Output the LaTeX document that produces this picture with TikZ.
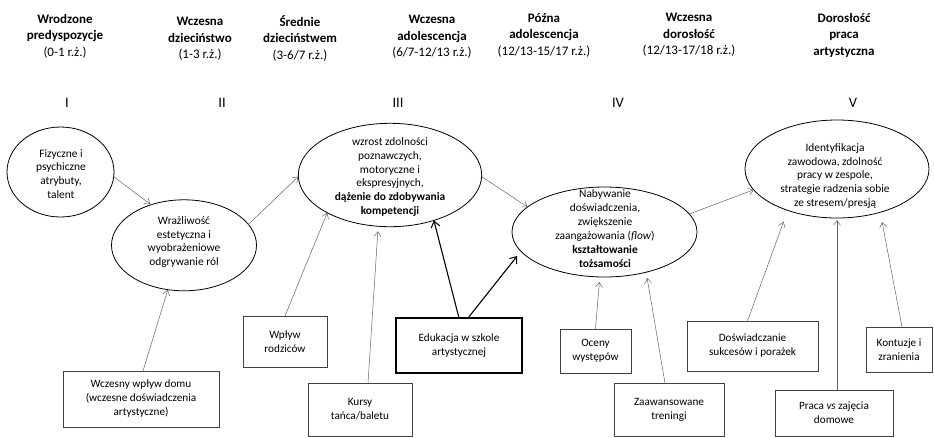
\documentclass[tikz,border=0pt]{standalone}
\usepackage{fontspec}
\setmainfont{Carlito}
\usetikzlibrary{arrows.meta,shapes.geometric}
\begin{document}
\begin{tikzpicture}[x=1pt,y=-1pt,
  hdr/.style={align=center,inner sep=0pt,font=\fontsize{13}{16.5}\selectfont},
  roman/.style={inner sep=0pt,font=\fontsize{14.5}{16}\selectfont},
  oval/.style={draw=black,line width=0.8pt,ellipse,inner sep=0pt,outer sep=0pt},
  otext/.style={align=center,inner sep=0pt,font=\fontsize{11.4}{13.9}\selectfont},
  box/.style={draw=black!75,line width=0.8pt,align=center,inner sep=0pt,outer sep=0pt,font=\fontsize{11.2}{14}\selectfont},
  tbox/.style={box,draw=black,line width=1.3pt},
  arr/.style={draw=black!60,line width=0.5pt,-{Straight Barb[length=5pt,width=7pt]}},
  tarr/.style={draw=black,line width=1.1pt,-{Straight Barb[length=6pt,width=9pt,line width=1pt]}}
]
\fill[white] (0,0) rectangle (934,437);
\useasboundingbox (0,0) rectangle (934,437);

% headers
\node[hdr] (h1) at (65,36) {\textbf{Wrodzone}\\\textbf{predyspozycje}\\(0-1 r.ż.)};
\node[hdr] (h2) at (200,39) {\textbf{Wczesna}\\\textbf{dzieciństwo}\\(1-3 r.ż.)};
\node[hdr] (h3) at (300,38) {\textbf{Średnie}\\\textbf{dzieciństwem}\\(3-6/7 r.ż.)};
\node[hdr] (h4) at (432,37) {\textbf{Wczesna}\\\textbf{adolescencja}\\(6/7-12/13 r.ż.)};
\node[hdr] (h5) at (544,35) {\textbf{Późna}\\\textbf{adolescencja}\\(12/13-15/17 r.ż.)};
\node[hdr] (h6) at (689,35) {\textbf{Wczesna}\\\textbf{dorosłość}\\(12/13-17/18 r.ż.)};
\node[hdr] (h7) at (844,35) {\textbf{Dorosłość}\\\textbf{praca}\\\textbf{artystyczna}};

% roman numerals
\node[roman] (r1) at (67,103) {I};
\node[roman] (r2) at (222,103) {II};
\node[roman] (r3) at (398,103) {III};
\node[roman] (r4) at (618,103) {IV};
\node[roman] (r5) at (853,103) {V};

% ellipses
\node[oval,minimum width=107pt,minimum height=90pt] (e1) at (60.5,172) {};
\node[oval,minimum width=145pt,minimum height=91pt] (e2) at (184,245.3) {};
\node[oval,minimum width=183.4pt,minimum height=103.4pt] (e3) at (390,175) {};
\node[oval,minimum width=185pt,minimum height=90pt] (e4) at (604.5,232) {};
\node[oval,minimum width=184pt,minimum height=98pt] (e5) at (837,169) {};

\node[otext] (t1) at (61,174) {Fizyczne i\\psychiczne\\atrybuty,\\talent};
\node[otext] (t2) at (184,242) {Wrażliwość\\estetyczna i\\wyobrażeniowe\\odgrywanie ról};
\node[otext] (t3) at (390,177) {wzrost zdolności\\poznawczych,\\motoryczne i\\ekspresyjnych,\\\textbf{dążenie do zdobywania}\\\textbf{kompetencji}};
\node[otext] (t4) at (605,228.5) {Nabywanie\\doświadczenia,\\zwiększenie\\zaangażowania (\textit{flow})\\\textbf{kształtowanie}\\\textbf{tożsamości}};
\node[otext] (t5) at (835,176) {Identyfikacja\\zawodowa, zdolność\\pracy w zespole,\\strategie radzenia sobie\\ze stresem/presją};

% boxes
\node[box,minimum width=156pt,minimum height=56pt] (b1) at (141,399) {Wczesny wpływ domu\\(wczesne doświadczenia\\artystyczne)};
\node[box,minimum width=84pt,minimum height=51pt] (b2) at (285,341.5) {Wpływ\\rodziców};
\node[box,minimum width=104pt,minimum height=53pt] (b3) at (360,409.5) {Kursy\\tańca/baletu};
\node[tbox,minimum width=126pt,minimum height=55pt] (b4) at (459,345.5) {Edukacja w szkole\\artystycznej};
\node[box,minimum width=71pt,minimum height=44pt] (b5) at (595.5,351) {Oceny\\występów};
\node[box,minimum width=110pt,minimum height=53pt] (b6) at (669,409.5) {Zaawansowane\\treningi};
\node[box,minimum width=131pt,minimum height=50pt] (b7) at (752.5,346) {Doświadczanie\\sukcesów i porażek};
\node[box,minimum width=118pt,minimum height=46pt] (b8) at (834,413) {Praca \textit{vs} zajęcia\\domowe};
\node[box,minimum width=66pt,minimum height=45pt] (b9) at (899,349.5) {Kontuzje i\\zranienia};

% connectors between ellipses
\draw[arr,shorten >=1pt] (e1.-5) -- (e2.129);
\draw[arr] (e2.18) -- (e3.181);
\draw[arr] (e3.-1) -- (e4.162);
\draw[arr] (e4.12) -- (e5.194);

% connectors from boxes
\draw[arr] ([xshift=2pt]b1.north) -- (e2.250);
\draw[arr] (b2.north) -- (e3.211);
\draw[arr,shorten >=5pt] ([xshift=8pt]b3.north) -- (e3.257);
\draw[tarr] (b4.north) -- (e3.-46);
\draw[tarr,shorten >=6pt] ([xshift=9pt]b4.north) -- (e4.193);
\draw[arr,shorten >=5pt] (b5.north) -- (e4.264);
\draw[arr,shorten >=6pt] ([xshift=-4pt]b6.north) -- (e4.-44);
\draw[arr,shorten >=12pt] ([xshift=-5pt]b7.north) -- (e5.220);
\draw[arr,shorten >=2pt] ([xshift=3pt]b8.north) -- (e5.270);
\draw[arr,shorten >=10pt] ([xshift=3pt]b9.north) -- (e5.-45);
\end{tikzpicture}
\end{document}
